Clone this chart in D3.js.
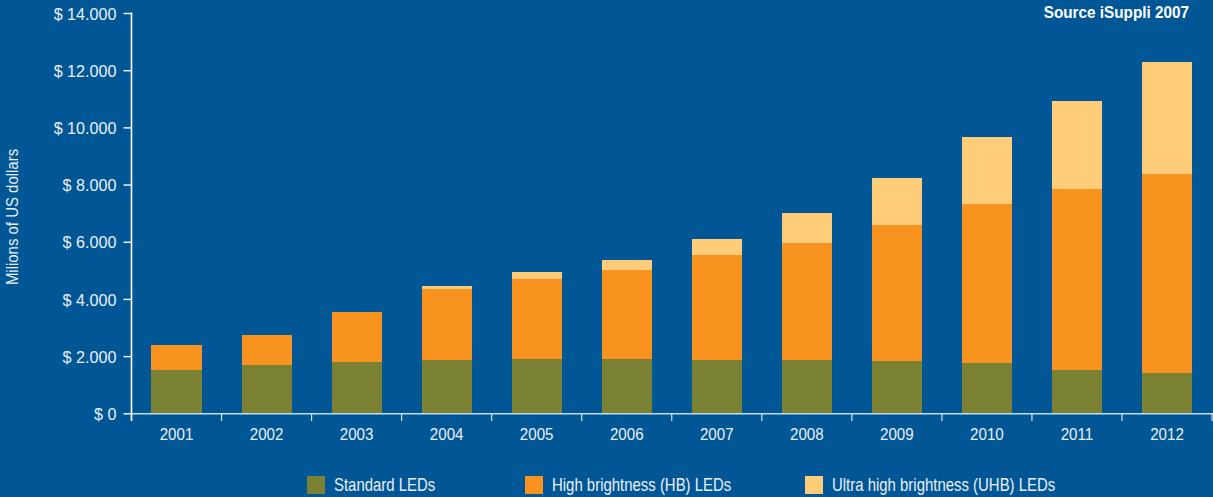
<!DOCTYPE html>
<html>
<head>
<meta charset="utf-8">
<script src="https://cdn.jsdelivr.net/npm/d3@7"></script>
<style>
  html, body { margin: 0; padding: 0; background: #015695; }
  svg { display: block; font-family: "Liberation Sans", Arial, sans-serif; }
</style>
</head>
<body>
<svg id="chart"></svg>
<script>
// data (millions of US dollars)
const years = ['2001', '2002', '2003', '2004', '2005', '2006', '2007', '2008', '2009', '2010', '2011', '2012'];
const standardLeds = [1520, 1690, 1800, 1870, 1900, 1900, 1870, 1870, 1830, 1760, 1520, 1410];
const hbLeds = [870, 1050, 1750, 2480, 2800, 3115, 3670, 4090, 4760, 5565, 6330, 6965];
const uhbLeds = [0, 0, 0, 105, 245, 350, 560, 1050, 1645, 2345, 3080, 3920];
const seriesNames = ['Standard LEDs', 'High brightness (HB) LEDs', 'Ultra high brightness (UHB) LEDs'];
const yTicks = [0, 2000, 4000, 6000, 8000, 10000, 12000, 14000];

const width = 1213;
const height = 497;
const colors = ['#7a8133', '#f7931e', '#ffcc7a'];
const textColor = '#e9eff6';

const svg = d3.select('#chart')
  .attr('width', width)
  .attr('height', height);

// the original uses a condensed face; squeeze Liberation Sans horizontally
const squeeze = (sel, px, py, sx) =>
  sel.attr('x', 0).attr('y', 0)
    .attr('transform', (d, i) => `translate(${px(d, i)},${py(d, i)}) scale(${sx},1)`);

// rows for the stack
const rows = years.map((y, i) => ({
  year: y,
  s0: standardLeds[i],
  s1: hbLeds[i],
  s2: uhbLeds[i]
}));
const stack = d3.stack().keys(['s0', 's1', 's2']);
const layers = stack(rows);

const x = d3.scaleBand()
  .domain(years)
  .range([131.5, 1212])
  .paddingInner(0.444)
  .paddingOuter(0.222);

const y = d3.scaleLinear()
  .domain([0, 14000])
  .range([413.3, 13]);

// bars
svg.append('g')
  .attr('shape-rendering', 'crispEdges')
  .selectAll('g')
  .data(layers)
  .enter()
  .append('g')
  .attr('fill', (d, i) => colors[i])
  .selectAll('rect')
  .data(d => d)
  .enter()
  .append('rect')
  .attr('x', d => x(d.data.year))
  .attr('width', x.bandwidth())
  .attr('y', d => y(d[1]))
  .attr('height', d => Math.max(0, y(d[0]) - y(d[1])));

// x axis line + ticks at band edges
const gap = x.step() - x.bandwidth();
const edges = years.map(d => x(d) - gap / 2).concat([x.range()[1]]);
svg.append('line')
  .attr('x1', 131.5).attr('x2', width)
  .attr('y1', 413.8).attr('y2', 413.8)
  .attr('stroke', '#c9d8e8')
  .attr('stroke-width', 1.6);
svg.append('g')
  .selectAll('line')
  .data(edges)
  .enter()
  .append('line')
  .attr('x1', d => d).attr('x2', d => d)
  .attr('y1', 413).attr('y2', 421)
  .attr('stroke', '#d6e2ee')
  .attr('stroke-width', 1.2);

svg.append('g')
  .selectAll('text')
  .data(years)
  .enter()
  .append('text')
  .call(squeeze, d => x(d) + x.bandwidth() / 2, () => 440, 0.89)
  .attr('text-anchor', 'middle')
  .attr('fill', textColor)
  .style('font-size', '17px')
  .text(d => d);

// y axis
const fmt = d => '$ ' + d3.format(',')(d).replace(/,/g, '.');
const yAxis = svg.append('g')
  .attr('transform', 'translate(131.5,0)')
  .call(d3.axisLeft(y).tickValues(yTicks).tickFormat(fmt).tickSize(8));
yAxis.select('.domain').remove();
yAxis.selectAll('line').attr('stroke', '#ffffff').attr('stroke-width', 1.4);
yAxis.selectAll('text')
  .attr('dy', null)
  .call(squeeze, () => -15, () => 6.2, 0.95)
  .attr('fill', textColor)
  .style('font-size', '17px');
svg.append('line')
  .attr('x1', 131.5).attr('x2', 131.5)
  .attr('y1', 12.5).attr('y2', 421)
  .attr('stroke', '#ffffff')
  .attr('stroke-width', 1.6);

// y axis title
svg.append('text')
  .attr('transform', 'translate(18,217) rotate(-90) scale(0.88,1)')
  .attr('text-anchor', 'middle')
  .attr('fill', textColor)
  .style('font-size', '17px')
  .text('Milions of US dollars');

// source note
svg.append('text')
  .attr('transform', 'translate(1189,18) scale(0.9,1)')
  .attr('text-anchor', 'end')
  .attr('fill', '#ffffff')
  .style('font-size', '17px')
  .style('font-weight', 'bold')
  .text('Source iSuppli 2007');

// legend
const legendX = [307, 525, 805];
const legend = svg.append('g')
  .selectAll('g')
  .data(seriesNames)
  .enter()
  .append('g')
  .attr('transform', (d, i) => `translate(${legendX[i]},476)`);
legend.append('rect')
  .attr('width', 18)
  .attr('height', 18)
  .attr('fill', (d, i) => colors[i]);
legend.append('text')
  .call(squeeze, () => 27, () => 15, 0.83)
  .attr('fill', textColor)
  .style('font-size', '18px')
  .text(d => d);
</script>
</body>
</html>
